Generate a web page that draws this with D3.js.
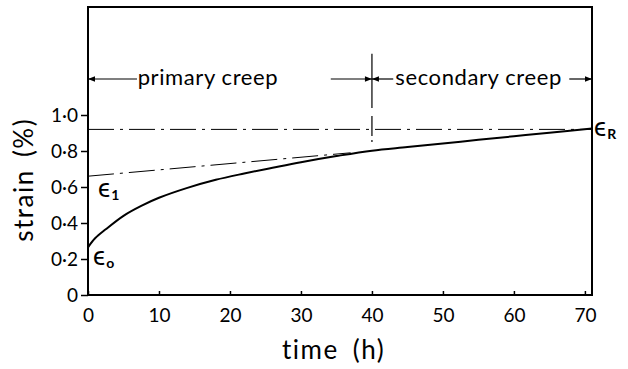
<!DOCTYPE html>
<html><head><meta charset="utf-8">
<script src="https://cdn.jsdelivr.net/npm/d3@7"></script>
<style>body{margin:0;background:#fff}svg{display:block}text{font-family:Lato,"Open Sans",sans-serif;fill:#000}</style>
</head><body><svg id="c" width="628" height="369"></svg>
<script>
const timeH = [0, 1, 2.5, 5, 7.5, 10, 14, 18, 22, 26, 30, 35, 40, 45, 50, 55, 60, 65, 71];
const strain = [0.265, 0.315, 0.365, 0.44, 0.495, 0.54, 0.595, 0.64, 0.675, 0.707, 0.738, 0.772, 0.802, 0.822, 0.842, 0.862, 0.882, 0.902, 0.925];
const xTicks = [0, 10, 20, 30, 40, 50, 60, 70];
const yTicks = [0, 0.2, 0.4, 0.6, 0.8, 1.0];
const yTickLabels = ["0", "0·2", "0·4", "0·6", "0·8", "1·0"];
const epsR = 0.925;
const tangentT = [0, 37];
const tangentS = [0.66, 0.79];
const boundaryT = 40;
const arrowLevel = 1.2;

const svg = d3.select("#c");
const x = d3.scaleLinear().domain([0, 71]).range([88, 592]);
const y = d3.scaleLinear().domain([0, 1.6]).range([295, 7]);

// frame
svg.append("rect").attr("x", x(0)).attr("y", y(1.6)).attr("width", x(71) - x(0)).attr("height", y(0) - y(1.6))
  .attr("fill", "none").attr("stroke", "#000").attr("stroke-width", 2);

// x axis
const gx = svg.append("g").attr("transform", `translate(0,${y(0)})`)
  .call(d3.axisBottom(x).tickValues(xTicks).tickSize(-4).tickPadding(14).tickFormat(d3.format("d")));
gx.select(".domain").remove();
gx.selectAll("line").attr("stroke-width", 1.5);
gx.selectAll("text").attr("font-size", 19).attr("font-family", "Lato");

// y axis
const gy = svg.append("g").attr("transform", `translate(${x(0)},0)`)
  .call(d3.axisLeft(y).tickValues(yTicks).tickSize(7).tickPadding(3).tickFormat((d, i) => yTickLabels[i]));
gy.select(".domain").remove();
gy.selectAll("line").attr("stroke-width", 1.5);
gy.selectAll("text").attr("font-size", 19).attr("font-family", "Lato");

// axis titles
svg.append("text").attr("x", x(34.6)).attr("y", 359).attr("text-anchor", "middle").attr("font-size", 26)
  .attr("letter-spacing", 1.5).attr("word-spacing", 6).text("time (h)");
svg.append("text").attr("transform", `translate(33,${y(0.64)}) rotate(-90)`).attr("text-anchor", "middle").attr("font-size", 26)
  .attr("letter-spacing", 1.5).attr("word-spacing", 4).text("strain (%)");

// eps_R horizontal dash-dot
svg.append("line").attr("x1", x(0)).attr("x2", x(71)).attr("y1", y(epsR - 0.005)).attr("y2", y(epsR - 0.005))
  .attr("stroke", "#000").attr("stroke-width", 1).attr("stroke-dasharray", "26,6,3,6");

// tangent dash-dot
svg.append("line").attr("x1", x(tangentT[0])).attr("x2", x(tangentT[1])).attr("y1", y(tangentS[0])).attr("y2", y(tangentS[1]))
  .attr("stroke", "#000").attr("stroke-width", 1).attr("stroke-dasharray", "26,6,3,6");

// creep curve
const line = d3.line().x((d, i) => x(timeH[i])).y(d => y(d)).curve(d3.curveCatmullRom.alpha(0.5));
svg.append("path").datum(strain).attr("d", line).attr("fill", "none").attr("stroke", "#000").attr("stroke-width", 2);

// boundary line at t=40
svg.append("line").attr("x1", x(boundaryT)).attr("x2", x(boundaryT)).attr("y1", y(1.34)).attr("y2", y(1.05))
  .attr("stroke", "#000").attr("stroke-width", 1.2);
svg.append("line").attr("x1", x(boundaryT)).attr("x2", x(boundaryT)).attr("y1", y(1.05)).attr("y2", y(0.83))
  .attr("stroke", "#000").attr("stroke-width", 1.2).attr("stroke-dasharray", "2,8,20,4");

// arrows
const defs = svg.append("defs");
defs.append("marker").attr("id", "ah").attr("viewBox", "0 0 10 10").attr("refX", 10).attr("refY", 5)
  .attr("markerWidth", 9).attr("markerHeight", 7).attr("markerUnits", "userSpaceOnUse").attr("orient", "auto")
  .append("path").attr("d", "M0,1 L10,5 L0,9 Z").attr("fill", "#000");
function arrow(t1, t2) {
  svg.append("line").attr("x1", x(t1)).attr("x2", x(t2)).attr("y1", y(arrowLevel)).attr("y2", y(arrowLevel))
    .attr("stroke", "#000").attr("stroke-width", 1.2).attr("marker-end", "url(#ah)");
}
arrow(6.9, 0);
arrow(34.2, 40);
arrow(43.0, 40);
arrow(67.8, 71);

svg.append("text").attr("x", x(7)).attr("y", 85).attr("font-size", 22).attr("letter-spacing", 0.6).text("primary creep");
svg.append("text").attr("x", x(43.3)).attr("y", 85).attr("font-size", 22).attr("letter-spacing", 0.6).text("secondary creep");

// epsilon labels
function eps(tx, ty, sub) {
  const t = svg.append("text").attr("x", tx).attr("y", ty).attr("font-size", 26);
  t.append("tspan").text("ϵ");
  t.append("tspan").attr("dy", 3).attr("dx", 1).attr("font-size", 14).attr("font-weight", "bold").text(sub);
}
eps(594, 136, "R");
eps(98, 197, "1");
eps(93, 265, "o");
</script></body></html>
